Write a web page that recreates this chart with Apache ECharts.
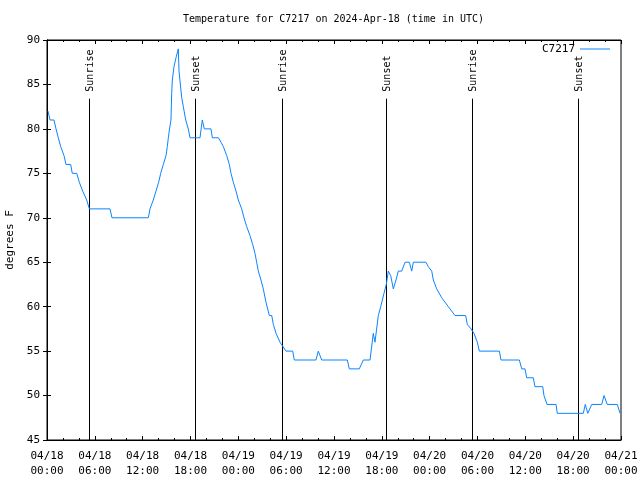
<!DOCTYPE html>
<html><head><meta charset="utf-8">
<script src="https://cdn.jsdelivr.net/npm/echarts@6/dist/echarts.min.js"></script>
<style>html,body{margin:0;padding:0;background:#fff}#c{width:640px;height:480px}</style>
</head><body><div id="c"></div>
<script>
// hours since 2024-04-18 00:00 UTC
const times = [0.13,0.38,0.88,1.13,1.42,1.72,1.97,2.13,2.38,2.97,3.17,3.73,4.05,4.48,4.98,5.31,7.90,8.15,12.71,12.92,13.33,13.67,14.01,14.26,14.59,14.93,15.09,15.22,15.37,15.55,15.64,15.72,15.93,16.18,16.47,16.56,16.90,17.10,17.40,17.72,17.94,19.19,19.48,19.73,20.57,20.74,21.49,21.83,22.12,22.54,22.87,23.08,23.37,23.71,24.00,24.42,24.71,25.05,25.46,25.80,26.09,26.30,26.51,26.84,27.13,27.47,27.89,28.19,28.39,28.73,29.23,29.98,30.82,31.02,33.74,34.03,34.46,37.67,37.92,39.17,39.68,40.52,40.93,41.14,41.56,41.86,42.27,42.56,42.81,43.11,43.44,43.78,44.07,44.49,44.91,45.45,45.75,45.95,47.54,47.83,48.26,48.46,48.88,49.51,50.34,51.18,52.52,52.72,53.19,53.56,53.98,54.23,56.74,56.95,59.25,59.55,59.96,60.17,61.00,61.21,62.18,62.34,62.59,62.72,63.85,64.01,67.27,67.52,67.83,67.99,68.33,69.58,69.87,70.06,70.28,71.54,71.88];
const temps = [82,81,81,80,79,78,78,77,76,76,75,75,74,73,72,71,71,70,70,71,72,73,74,75,76,77,78,79,80,81,84,85.5,87,88,89,86.5,83.5,82.5,81,80,79,79,81,80,80,79,79,78.5,78,77,76,75,74,73,72,71,70,69,68,67,66,65,64,63,62,60.5,59,59,58,57,56,55,55,54,54,55,54,54,53,53,54,54,57,56,59,60,61.5,62.5,64,63.5,62,63,64,64,65,65,64,65,65,64.5,64,63,62,61,60,59,59,58,57.5,57,56,55,55,54,54,53,53,52,52,51,51,50,50,49,49,48,48,49,48,48,49,49,50,50,49,49,48];
const sunTimes = [5.31, 18.6, 29.44, 42.56, 53.35, 66.65];
const sunLabels = ['Sunrise','Sunset','Sunrise','Sunset','Sunrise','Sunset'];
const sunLineTop = 83.4;
const xTickLabels = ['04/18\n00:00','04/18\n06:00','04/18\n12:00','04/18\n18:00','04/19\n00:00','04/19\n06:00','04/19\n12:00','04/19\n18:00','04/20\n00:00','04/20\n06:00','04/20\n12:00','04/20\n18:00','04/21\n00:00'];
const seriesName = 'C7217';
const titleText = 'Temperature for C7217 on 2024-Apr-18 (time in UTC)';
const yName = 'degrees F';

const FONT = 'DejaVu Sans Mono';
const chart = echarts.init(document.getElementById('c'), null, {renderer:'canvas'});
const axisCommon = {
  axisLine:{show:true, lineStyle:{color:'#000', width:1}},
  splitLine:{show:false}
};
chart.setOption({
  animation:false,
  backgroundColor:'#fff',
  title:{text:titleText, left:183, top:14, padding:0,
    textStyle:{fontFamily:FONT, fontSize:10, fontWeight:'normal', color:'#000'}},
  legend:{data:[{name:seriesName, icon:'rect'}], right:30, top:43.5, align:'right', itemWidth:30, itemHeight:1, padding:0,
    textStyle:{fontFamily:FONT, fontSize:11, color:'#000'}},
  grid:{left:47, right:19, top:40, bottom:40, containLabel:false, outerBoundsMode:'none',
    show:true, borderColor:'#000', borderWidth:1, backgroundColor:'transparent'},
  xAxis:[
    Object.assign({type:'value', min:0, max:72, interval:6, position:'bottom',
      axisTick:{show:true, inside:true, length:4, lineStyle:{color:'#000'}},
      minorTick:{show:true, splitNumber:3, length:2, lineStyle:{color:'#000'}},
      axisLabel:{margin:9, fontFamily:FONT, fontSize:11, color:'#000', lineHeight:15,
        formatter:v=>xTickLabels[Math.round(v/6)]}}, axisCommon),
    Object.assign({type:'value', min:0, max:72, interval:6, position:'top',
      axisTick:{show:true, inside:true, length:4, lineStyle:{color:'#000'}},
      minorTick:{show:true, splitNumber:3, length:2, lineStyle:{color:'#000'}},
      axisLabel:{show:false}}, axisCommon)
  ],
  yAxis:[
    Object.assign({type:'value', min:45, max:90, interval:5, position:'left',
      name:yName, nameLocation:'middle', nameRotate:90, nameGap:31,
      nameTextStyle:{fontFamily:FONT, fontSize:11, color:'#000'},
      axisTick:{show:true, inside:true, length:4, lineStyle:{color:'#000'}},
      axisLabel:{margin:7, fontFamily:FONT, fontSize:11, color:'#000'}}, axisCommon),
    Object.assign({type:'value', min:45, max:90, interval:5, position:'right',
      axisTick:{show:true, inside:true, length:4, lineStyle:{color:'#000'}},
      axisLabel:{show:false}}, axisCommon)
  ],
  series:[
    {type:'custom', name:'sun', xAxisIndex:0, yAxisIndex:0, silent:true, z:2,
     data:sunTimes.map(t=>[t]),
     encode:{x:0},
     renderItem:function(params, api){
       const t = api.value(0);
       const p0 = api.coord([t, 45]);
       const p1 = api.coord([t, sunLineTop]);
       const x = Math.round(p0[0]) + 0.5;
       return {type:'group', children:[
         {type:'line', shape:{x1:x, y1:p0[1], x2:x, y2:p1[1]}, style:{stroke:'#000', lineWidth:1}},
         {type:'text', x:x+1, y:p1[1]-7, rotation:Math.PI/2,
          style:{text:sunLabels[params.dataIndex], fill:'#000', font:'10px "DejaVu Sans Mono"', align:'left', verticalAlign:'middle'}}
       ]};
     }},
    {type:'line', name:seriesName, xAxisIndex:0, yAxisIndex:0, z:5,
     data:times.map((t,i)=>[t, temps[i]]),
     symbol:'none', showSymbol:false,
     lineStyle:{color:'#0a84ff', width:1}, itemStyle:{color:'#0a84ff'}}
  ]
});
</script></body></html>
